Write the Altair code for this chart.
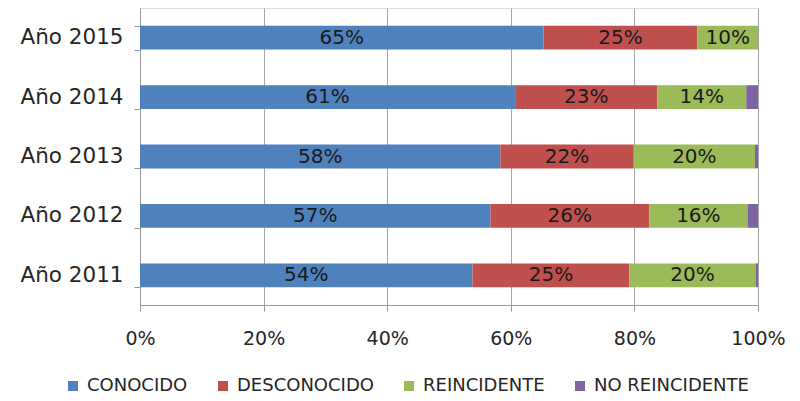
import altair as alt
import pandas as pd

years = ["Año 2015", "Año 2014", "Año 2013", "Año 2012", "Año 2011"]
categories = ["CONOCIDO", "DESCONOCIDO", "REINCIDENTE", "NO REINCIDENTE"]
conocido = [65.3, 60.7, 58.3, 56.7, 53.8]
desconocido = [24.9, 23.0, 21.6, 25.7, 25.4]
reincidente = [9.8, 14.4, 19.6, 15.9, 20.4]
no_reincidente = [0.0, 1.9, 0.5, 1.7, 0.4]
colors = ["#4F81BD", "#C0504D", "#9BBB59", "#8064A2"]
x_ticks = [0, 20, 40, 60, 80, 100]

series = [conocido, desconocido, reincidente, no_reincidente]
rows = []
for ci, (cat, vals) in enumerate(zip(categories, series)):
    for y, v in zip(years, vals):
        rows.append({"year": y, "cat": cat, "order": ci, "value": v})
df = pd.DataFrame(rows)

FONT = "DejaVu Sans"

base = alt.Chart(df).transform_stack(
    stack="value", groupby=["year"], as_=["x0", "x1"],
    sort=[alt.SortField("order", order="ascending")]
)

xscale = alt.Scale(domain=[0, 100], nice=False, zero=True)
yscale = alt.Scale(paddingInner=0.6, paddingOuter=0.3)

bars = base.mark_bar().encode(
    y=alt.Y("year:N", sort=years, scale=yscale, title=None,
            axis=alt.Axis(labelFont=FONT, labelFontSize=21.5, labelColor="#262626",
                          tickBand="extent", tickSize=6, tickColor="#9a9a9a",
                          domainColor="#9a9a9a", labelPadding=11, grid=False)),
    x=alt.X("x0:Q", scale=xscale, title=None,
            axis=alt.Axis(values=x_ticks, labelExpr="datum.value + '%'",
                          labelFont=FONT, labelFontSize=19, labelColor="#262626",
                          labelFlush=False,
                          tickSize=6, tickColor="#9a9a9a", domainColor="#9a9a9a",
                          grid=True, gridColor="#a6a6a6", labelPadding=18)),
    x2="x1:Q",
    color=alt.Color("cat:N", sort=categories,
                    scale=alt.Scale(domain=categories, range=colors),
                    legend=alt.Legend(title=None, orient="none", direction="horizontal",
                                      legendX=-76, legendY=369, symbolType="square",
                                      symbolSize=100, symbolStrokeWidth=0,
                                      labelFont=FONT, labelFontSize=18,
                                      labelColor="#262626", columnPadding=26,
                                      labelOffset=5, padding=0)),
)

labels = base.transform_filter(
    alt.datum.cat != "NO REINCIDENTE"
).transform_calculate(
    mid="(datum.x0 + datum.x1) / 2",
    txt="format(datum.value, '.0f') + '%'"
).mark_text(font=FONT, fontSize=20, color="#1a1a1a").encode(
    y=alt.Y("year:N", sort=years, scale=yscale),
    x=alt.X("mid:Q", scale=xscale),
    text="txt:N",
)

chart = alt.layer(bars, labels).properties(
    width=618, height=297,
    autosize=alt.AutoSizeParams(type="none"),
    padding={"left": 132, "top": 0, "right": 34, "bottom": 92},
).configure_view(stroke=None).configure(background="white")

chart.save("out.html", embed_options={"renderer": "svg", "actions": False})
